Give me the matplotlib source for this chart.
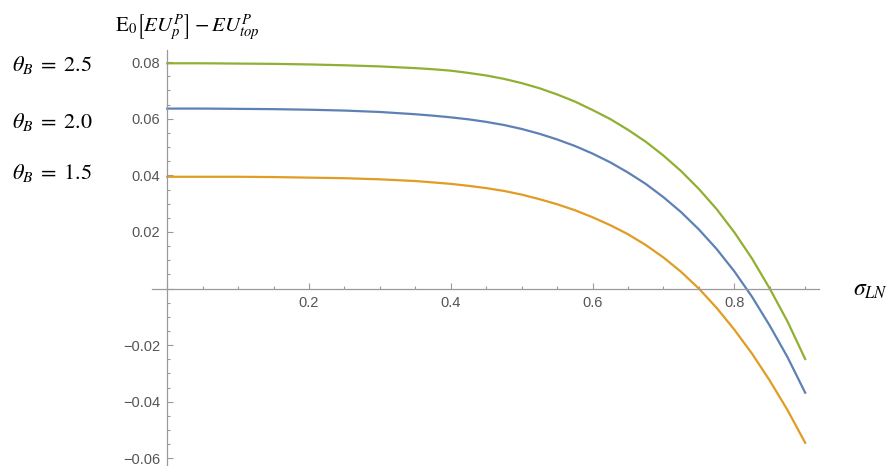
import numpy as np
import matplotlib
matplotlib.use('Agg')
import matplotlib.pyplot as plt
from matplotlib.ticker import MultipleLocator, FuncFormatter

# sigma_LN grid and curves
sigma = [0.0, 0.05, 0.1, 0.15, 0.2, 0.25, 0.3, 0.325, 0.35, 0.375,
         0.4, 0.425, 0.45, 0.475, 0.5, 0.525, 0.55, 0.575, 0.6, 0.625,
         0.65, 0.675, 0.7, 0.725, 0.75, 0.775, 0.8, 0.825, 0.85, 0.875, 0.9]
theta25 = [0.0796, 0.0796, 0.0795, 0.0794, 0.0792, 0.0789, 0.0785, 0.0782, 0.0779, 0.0775,
           0.0770, 0.0762, 0.0753, 0.0741, 0.0726, 0.0708, 0.0686, 0.0661, 0.0631, 0.0599,
           0.0561, 0.0519, 0.0470, 0.0415, 0.0352, 0.0281, 0.0199, 0.0106, 0.0000, -0.0116,
           -0.0249]
theta20 = [0.0636, 0.0636, 0.0635, 0.0634, 0.0632, 0.0629, 0.0624, 0.0620, 0.0616, 0.0611,
           0.0605, 0.0598, 0.0589, 0.0578, 0.0564, 0.0547, 0.0527, 0.0504, 0.0477, 0.0446,
           0.0410, 0.0370, 0.0323, 0.0270, 0.0209, 0.0140, 0.0061, -0.0029, -0.0131, -0.0242,
           -0.0368]
theta15 = [0.0395, 0.0395, 0.0395, 0.0394, 0.0392, 0.0390, 0.0386, 0.0383, 0.0380, 0.0375,
           0.0370, 0.0363, 0.0355, 0.0345, 0.0332, 0.0316, 0.0298, 0.0277, 0.0252, 0.0224,
           0.0192, 0.0154, 0.0110, 0.0059, 0.0000, -0.0068, -0.0145, -0.0230, -0.0325, -0.0429,
           -0.0545]
labels = ['2.5', '2.0', '1.5']

plt.rcParams['mathtext.fontset'] = 'stix'
plt.rcParams['font.family'] = ['Liberation Sans', 'DejaVu Sans']

fig = plt.figure(figsize=(8.89, 4.66), dpi=100)
ax = fig.add_axes([152/889, 0.0, 667/889, 1 - 50/466])

ax.plot(sigma, theta15, color='#E19C24', lw=1.6)
ax.plot(sigma, theta20, color='#5E81B5', lw=1.6)
ax.plot(sigma, theta25, color='#8FB032', lw=1.6)

ax.set_xlim(-0.0215, 0.9195)
ax.set_ylim(-0.0627, 0.0843)

ax.spines['left'].set_position(('data', 0))
ax.spines['bottom'].set_position(('data', 0))
ax.spines['top'].set_visible(False)
ax.spines['right'].set_visible(False)
for s in ['left', 'bottom']:
    ax.spines[s].set_color('#9a9a9a')
    ax.spines[s].set_linewidth(0.9)

ax.xaxis.set_major_locator(MultipleLocator(0.2))
ax.xaxis.set_minor_locator(MultipleLocator(0.05))
ax.yaxis.set_major_locator(MultipleLocator(0.02))
ax.yaxis.set_minor_locator(MultipleLocator(0.005))

def fmt_x(v, pos):
    if abs(v) < 1e-9:
        return ''
    return ('%.1f' % v)

def fmt_y(v, pos):
    if abs(v) < 1e-9:
        return ''
    return ('%.2f' % v).replace('-', '\u2212')

ax.xaxis.set_major_formatter(FuncFormatter(fmt_x))
ax.yaxis.set_major_formatter(FuncFormatter(fmt_y))

ax.tick_params(which='both', direction='in', colors='#9a9a9a', labelcolor='#555555',
               labelsize=10.5, width=0.8)
ax.tick_params(which='major', length=4)
ax.tick_params(which='minor', length=2.5)
ax.tick_params(axis='x', pad=5)
ax.tick_params(axis='y', pad=5)

ax.set_facecolor('none')

fig.text(187/889, 1 - 28/466, r'$\mathrm{E}_0\left[EU_p^P\right] - EU_{top}^P$',
         fontsize=15, ha='center', va='center')
fig.text(870/889, 1 - 290/466, r'$\sigma_{LN}$', fontsize=17, ha='center', va='center')

for lab, yp in zip(labels, [65, 122, 173]):
    fig.text(12/889, 1 - yp/466, r'$\theta_B \;=\; %s$' % lab, fontsize=16,
             ha='left', va='center')

fig.savefig('out.png', dpi=100)
